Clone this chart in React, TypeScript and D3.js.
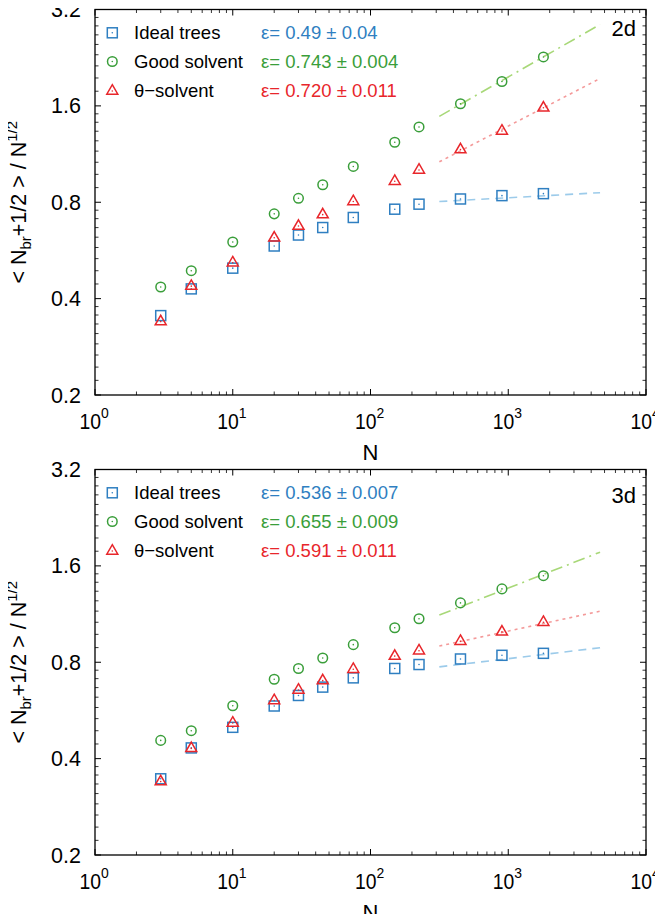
import React from "react";
import * as d3 from "d3";

// chain sizes N and <N_br+1/2>/N^1/2
const Ns = [3, 5, 10, 20, 30, 45, 75, 150, 225, 450, 900, 1800];

const ideal2d = [0.354, 0.429, 0.498, 0.584, 0.632, 0.667, 0.717, 0.761, 0.789, 0.819, 0.839, 0.851];
const good2d = [0.435, 0.489, 0.601, 0.736, 0.823, 0.907, 1.035, 1.232, 1.375, 1.625, 1.907, 2.275];
const theta2d = [0.341, 0.44, 0.521, 0.623, 0.678, 0.736, 0.809, 0.936, 1.015, 1.175, 1.343, 1.587];

const ideal3d = [0.346, 0.432, 0.501, 0.584, 0.63, 0.669, 0.715, 0.765, 0.787, 0.819, 0.841, 0.853];
const good3d = [0.456, 0.489, 0.585, 0.708, 0.765, 0.825, 0.908, 1.025, 1.094, 1.226, 1.356, 1.491];
const theta3d = [0.341, 0.433, 0.52, 0.611, 0.659, 0.705, 0.765, 0.841, 0.874, 0.936, 1.001, 1.073];

// fit lines: N range and values at both ends
const fitN = [316, 4640];
const fitIdeal2d = [0.804, 0.857];
const fitGood2d = [1.484, 2.873];
const fitTheta2d = [1.07, 1.948];
const fitIdeal3d = [0.774, 0.888];
const fitGood3d = [1.123, 1.766];
const fitTheta3d = [0.899, 1.155];

const legendNames = ["Ideal trees", "Good solvent", "θ−solvent"];
const eps2d = ["ε= 0.49 ± 0.04", "ε= 0.743 ± 0.004", "ε= 0.720 ± 0.011"];
const eps3d = ["ε= 0.536 ± 0.007", "ε= 0.655 ± 0.009", "ε= 0.591 ± 0.011"];

const yTicks = [0.2, 0.4, 0.8, 1.6, 3.2];
const xTicks = [1, 10, 100, 1000, 10000];

const BLUE = "#2f7fc1";
const GREEN = "#3a9e3a";
const RED = "#e8262b";
const colors = [BLUE, GREEN, RED];
const fitColors = ["#9ccbea", "#a8d878", "#f49a9a"];
const fitDash = ["8,6", "12,5,2,5", "3,4"];

const FONT = "'Liberation Sans', Arial, Helvetica, sans-serif";

const W = 663;
const H = 922;
const left = 95;
const right = 646;
const plotH = 385.5;

function Marker({ kind, x, y, color }: { kind: number; x: number; y: number; color: string }) {
  const sw = 1.5;
  let shape;
  if (kind === 0) {
    shape = <rect x={x - 5} y={y - 5} width={10} height={10} fill="none" stroke={color} strokeWidth={sw} />;
  } else if (kind === 1) {
    shape = <circle cx={x} cy={y} r={4.8} fill="none" stroke={color} strokeWidth={sw} />;
  } else {
    shape = (
      <path
        d={`M${x},${y - 5.5}L${x + 5.5},${y + 4}L${x - 5.5},${y + 4}Z`}
        fill="none"
        stroke={color}
        strokeWidth={sw}
      />
    );
  }
  return (
    <g>
      {shape}
      <circle cx={x} cy={kind === 2 ? y + 0.8 : y} r={0.8} fill={color} />
    </g>
  );
}

function Panel({
  top,
  series,
  fits,
  eps,
  tag,
  tagY,
}: {
  top: number;
  series: number[][];
  fits: number[][];
  eps: string[];
  tag: string;
  tagY: number;
}) {
  const x = d3.scaleLog().domain([1, 1e4]).range([left, right]);
  const y = d3.scaleLog().base(2).domain([0.2, 3.2]).range([top + plotH, top]);
  const bottom = top + plotH;

  const xMinor: number[] = [];
  for (let e = 0; e < 4; e++) for (let k = 2; k <= 9; k++) xMinor.push(k * Math.pow(10, e));
  const yMinor: number[] = [];
  for (let i = 0; i < yTicks.length - 1; i++) for (let k = 1; k <= 8; k++) yMinor.push(yTicks[i] * (1 + k / 9));

  const fitLine = d3
    .line<number>()
    .x((_, i) => x(fitN[i]))
    .y((d) => y(d));

  return (
    <g>
      {/* fit lines */}
      {fits.map((f, i) => (
        <path key={"f" + i} d={fitLine(f) || ""} fill="none" stroke={fitColors[i]} strokeWidth={1.6} strokeDasharray={fitDash[i]} />
      ))}
      {/* data */}
      {series.map((s, si) =>
        s.map((v, i) => <Marker key={si + "-" + i} kind={si} x={x(Ns[i])} y={y(v)} color={colors[si]} />)
      )}
      {/* frame */}
      <rect x={left} y={top} width={right - left} height={plotH} fill="none" stroke="#000" strokeWidth={1.3} />
      {/* x ticks */}
      {xTicks.map((t) => (
        <g key={"xt" + t}>
          <line x1={x(t)} x2={x(t)} y1={bottom} y2={bottom - 6} stroke="#000" strokeWidth={1} />
          <line x1={x(t)} x2={x(t)} y1={top} y2={top + 6} stroke="#000" strokeWidth={1} />
        </g>
      ))}
      {xMinor.map((t) => (
        <g key={"xm" + t}>
          <line x1={x(t)} x2={x(t)} y1={bottom} y2={bottom - 3.5} stroke="#000" strokeWidth={0.8} />
          <line x1={x(t)} x2={x(t)} y1={top} y2={top + 3.5} stroke="#000" strokeWidth={0.8} />
        </g>
      ))}
      {/* y ticks */}
      {yTicks.map((t) => (
        <g key={"yt" + t}>
          <line x1={left} x2={left + 6} y1={y(t)} y2={y(t)} stroke="#000" strokeWidth={1} />
          <line x1={right} x2={right - 6} y1={y(t)} y2={y(t)} stroke="#000" strokeWidth={1} />
        </g>
      ))}
      {yMinor.map((t) => (
        <g key={"ym" + t}>
          <line x1={left} x2={left + 3.5} y1={y(t)} y2={y(t)} stroke="#000" strokeWidth={0.8} />
          <line x1={right} x2={right - 3.5} y1={y(t)} y2={y(t)} stroke="#000" strokeWidth={0.8} />
        </g>
      ))}
      {/* tick labels */}
      {yTicks.map((t) => (
        <text key={"yl" + t} x={81} y={y(t) + 7.5} textAnchor="end" fontSize={21.5} fontFamily={FONT}>
          {t.toFixed(1)}
        </text>
      ))}
      {xTicks.map((t) => (
        <g key={"xl" + t} transform={`translate(${x(t) - 15.5},${bottom + 33.5}) scale(0.9,1)`}>
          <text x={0} y={0} fontSize={21.5} fontFamily={FONT}>
            10
            <tspan dy={-10.5} fontSize={15.5}>
              {Math.round(Math.log10(t))}
            </tspan>
          </text>
        </g>
      ))}
      <text x={(left + right) / 2} y={bottom + 64.5} textAnchor="middle" fontSize={22} fontFamily={FONT}>
        N
      </text>
      {/* y label */}
      <text
        transform={`translate(26,${top + plotH / 2}) rotate(-90)`}
        textAnchor="middle"
        fontSize={21.5}
        fontFamily={FONT}
      >
        {"< N"}
        <tspan dy={5} fontSize={15}>
          br
        </tspan>
        <tspan dy={-5}>{"+1/2 > / N"}</tspan>
        <tspan dy={-9} fontSize={15}>
          1/2
        </tspan>
      </text>
      {/* legend */}
      {legendNames.map((name, i) => {
        const ly = top + 29.8 + i * 28.7;
        return (
          <g key={"lg" + i}>
            <Marker kind={i} x={112.3} y={ly - 6.5} color={colors[i]} />
            <text x={134} y={ly} fontSize={18.5} fontFamily={FONT}>
              {name}
            </text>
            <text x={261} y={ly} fontSize={18.5} fontFamily={FONT} fill={colors[i]}>
              {eps[i]}
            </text>
          </g>
        );
      })}
      <text x={636} y={tagY} textAnchor="end" fontSize={22} fontFamily={FONT}>
        {tag}
      </text>
    </g>
  );
}

export default function App() {
  return (
    <svg width={W} height={H} style={{ display: "block", margin: "-8px", background: "#fff" }}>
      <Panel
        top={9.5}
        series={[ideal2d, good2d, theta2d]}
        fits={[fitIdeal2d, fitGood2d, fitTheta2d]}
        eps={eps2d}
        tag="2d"
        tagY={35.7}
      />
      <Panel
        top={469.5}
        series={[ideal3d, good3d, theta3d]}
        fits={[fitIdeal3d, fitGood3d, fitTheta3d]}
        eps={eps3d}
        tag="3d"
        tagY={503}
      />
    </svg>
  );
}
